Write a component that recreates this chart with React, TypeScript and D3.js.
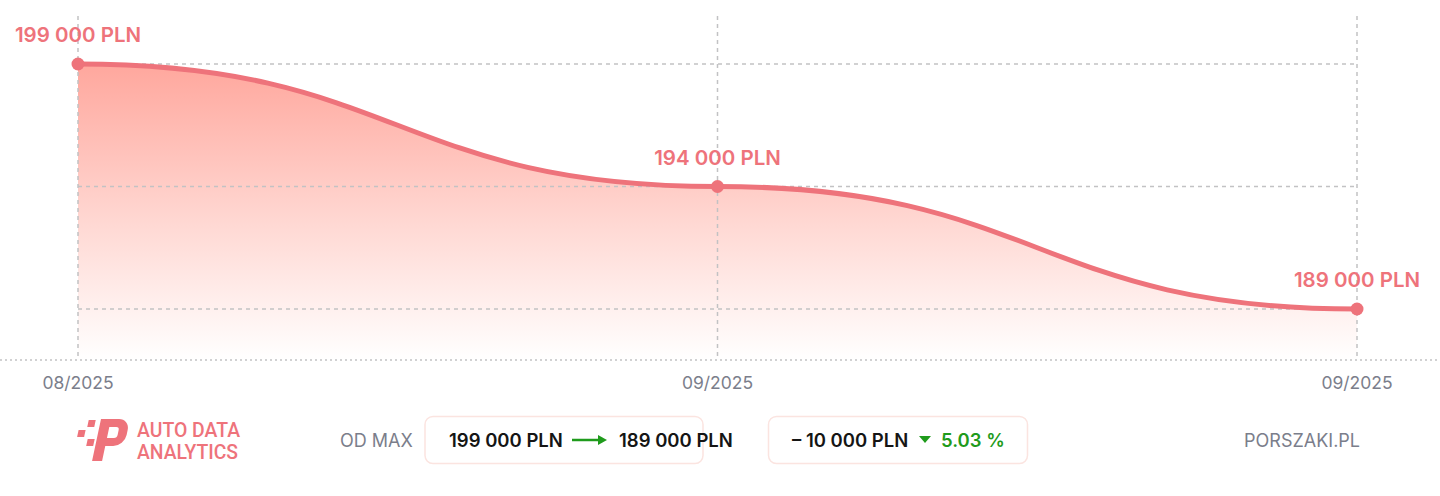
import React, { useEffect, useRef } from "react";
import * as d3 from "d3";

const DATES = ["08/2025", "09/2025", "09/2025"];
const PRICES = [199000, 194000, 189000];
const START_PRICE = 199000;
const END_PRICE = 189000;

const W = 1440;
const H = 496;
const PINK = "#ee737b";
const GRID = "#c2c2c4";
const GREY = "#7b7e8b";
const FONT = "Inter, 'Noto Sans', sans-serif";

const fmt = (v: number) => d3.format(",")(v).replace(/,/g, " ") + " PLN";

const App: React.FC = () => {
  const svgRef = useRef<SVGSVGElement>(null);

  useEffect(() => {
    const svg = d3.select(svgRef.current!);
    svg.selectAll("*").remove();

    const top = 16;
    const base = 360;
    const idx = PRICES.map((_, i) => i);

    const x = d3.scalePoint<number>().domain(idx).range([78, 1357]);
    const y = d3.scaleLinear().domain([189000, 199000]).range([309, 64]);

    const defs = svg.append("defs");
    const grad = defs.append("linearGradient")
      .attr("id", "fillGrad")
      .attr("gradientUnits", "userSpaceOnUse")
      .attr("x1", 0).attr("x2", 0)
      .attr("y1", y(199000)).attr("y2", base);
    grad.append("stop").attr("offset", 0).attr("stop-color", "#ffa79d");
    grad.append("stop").attr("offset", 0.55).attr("stop-color", "#ffd9d4");
    grad.append("stop").attr("offset", 1).attr("stop-color", "#ffffff");

    // Area
    const area = d3.area<number>()
      .x(i => x(i)!)
      .y0(base)
      .y1(i => y(PRICES[i]))
      .curve(d3.curveBumpX);
    svg.append("path").datum(idx).attr("d", area).attr("fill", "url(#fillGrad)");

    // Grid: vertical lines at each point
    svg.append("g").selectAll("line")
      .data(idx)
      .join("line")
      .attr("x1", i => x(i)!).attr("x2", i => x(i)!)
      .attr("y1", top).attr("y2", base)
      .attr("stroke", GRID).attr("stroke-width", 1.5)
      .attr("stroke-dasharray", "4 4");

    // Grid: horizontal lines at each value
    svg.append("g").selectAll("line")
      .data(idx)
      .join("line")
      .attr("x1", x(0)!).attr("x2", x(idx.length - 1)!)
      .attr("y1", i => y(PRICES[i])).attr("y2", i => y(PRICES[i]))
      .attr("stroke", GRID).attr("stroke-width", 1.5)
      .attr("stroke-dasharray", "4 4");

    // Baseline
    svg.append("line")
      .attr("x1", 0).attr("x2", W)
      .attr("y1", base).attr("y2", base)
      .attr("stroke", GRID).attr("stroke-width", 1.5)
      .attr("stroke-dasharray", "2 3");

    // Line
    const line = d3.line<number>()
      .x(i => x(i)!)
      .y(i => y(PRICES[i]))
      .curve(d3.curveBumpX);
    svg.append("path").datum(idx).attr("d", line)
      .attr("fill", "none").attr("stroke", PINK).attr("stroke-width", 5)
      .attr("stroke-linecap", "round");

    // Dots
    svg.append("g").selectAll("circle")
      .data(idx)
      .join("circle")
      .attr("cx", i => x(i)!).attr("cy", i => y(PRICES[i]))
      .attr("r", 6.5).attr("fill", PINK);

    // Point labels
    svg.append("g").selectAll("text")
      .data(idx)
      .join("text")
      .attr("x", i => x(i)!).attr("y", i => y(PRICES[i]) - 22)
      .attr("text-anchor", "middle")
      .attr("font-family", FONT).attr("font-weight", 600).attr("font-size", 20.5)
      .attr("fill", PINK)
      .text(i => fmt(PRICES[i]));

    // X axis labels
    svg.append("g").selectAll("text")
      .data(idx)
      .join("text")
      .attr("x", i => x(i)!).attr("y", 389)
      .attr("text-anchor", "middle")
      .attr("font-family", FONT).attr("font-size", 17.5)
      .attr("fill", GREY)
      .text(i => DATES[i]);

    // Footer
    const footY = 446.5;
    const logo = svg.append("g").attr("fill", PINK);
    logo.append("rect").attr("x", 88).attr("y", 420).attr("width", 7).attr("height", 7).attr("transform", "skewX(-12) translate(90,0)");
    logo.append("rect").attr("x", 79).attr("y", 430).attr("width", 7).attr("height", 7).attr("transform", "skewX(-12) translate(91,0)");
    logo.append("rect").attr("x", 88).attr("y", 439).attr("width", 7).attr("height", 7).attr("transform", "skewX(-12) translate(93,0)");
    logo.append("path")
      .attr("transform", "translate(97,419) skewX(-12) translate(4,0)")
      .attr("fill-rule", "evenodd")
      .attr("d", "M0,0 H18 A11,11 0 0 1 29,11 V16 A11,11 0 0 1 18,27 H10 V42 H0 Z M10,8 H17 A3,3 0 0 1 20,11 V16 A3,3 0 0 1 17,19 H10 Z");

    const brand = svg.append("g")
      .attr("font-family", "Roboto, sans-serif").attr("font-weight", 500)
      .attr("font-size", 20).attr("fill", PINK);
    brand.append("text").attr("x", 137).attr("y", 437)
      .attr("textLength", 103).attr("lengthAdjust", "spacingAndGlyphs").text("AUTO DATA");
    brand.append("text").attr("x", 137).attr("y", 459)
      .attr("textLength", 101).attr("lengthAdjust", "spacingAndGlyphs").text("ANALYTICS");

    svg.append("text").attr("x", 340).attr("y", footY)
      .attr("font-family", FONT).attr("font-size", 18).attr("fill", GREY)
      .text("OD MAX");

    const box = (x0: number, w: number) =>
      svg.append("rect").attr("x", x0).attr("y", 416.5).attr("width", w).attr("height", 47)
        .attr("rx", 8).attr("fill", "#fff").attr("stroke", "#fbe4e0").attr("stroke-width", 1.5);
    box(425, 278);
    box(768.5, 259);

    const boxText = svg.append("g")
      .attr("font-family", FONT).attr("font-weight", 600).attr("font-size", 18.5).attr("fill", "#151515");
    boxText.append("text").attr("x", 449).attr("y", footY).text(fmt(START_PRICE));
    boxText.append("text").attr("x", 619).attr("y", footY).text(fmt(END_PRICE));
    boxText.append("text").attr("x", 792).attr("y", footY).text("\u2013 " + fmt(START_PRICE - END_PRICE));

    const GREEN = "#1f9b1c";
    svg.append("line").attr("x1", 572).attr("x2", 600).attr("y1", 440).attr("y2", 440)
      .attr("stroke", GREEN).attr("stroke-width", 2.5);
    svg.append("path").attr("d", "M598,435 L607,440 L598,445 Z").attr("fill", GREEN);
    svg.append("path").attr("d", "M919,436 L931,436 L925,443 Z").attr("fill", GREEN);
    const pct = ((START_PRICE - END_PRICE) / START_PRICE) * 100;
    svg.append("text").attr("x", 941).attr("y", footY)
      .attr("font-family", FONT).attr("font-weight", 600).attr("font-size", 18.5).attr("fill", GREEN)
      .text(pct.toFixed(2) + " %");

    svg.append("text").attr("x", 1360).attr("y", footY).attr("text-anchor", "end")
      .attr("font-family", FONT).attr("font-size", 18).attr("fill", GREY)
      .text("PORSZAKI.PL");
  }, []);

  return (
    <svg
      ref={svgRef}
      width={W}
      height={H}
      style={{ position: "absolute", left: 0, top: 0, background: "#fff", display: "block" }}
    />
  );
};

export default App;
